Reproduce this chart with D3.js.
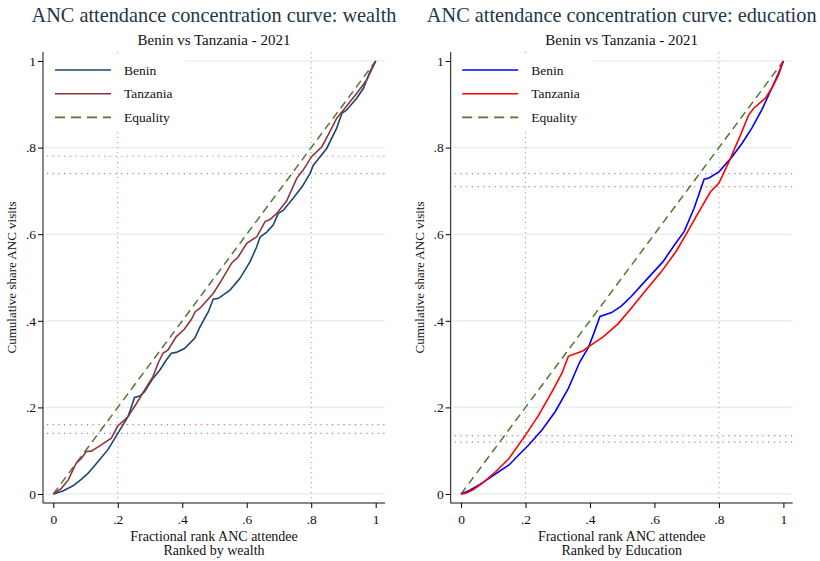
<!DOCTYPE html>
<html>
<head>
<meta charset="utf-8">
<script src="https://cdn.jsdelivr.net/npm/d3@7"></script>
<style>
body { margin: 0; background: #fff; }
text { font-family: "Liberation Serif", "DejaVu Serif", serif; }
</style>
</head>
<body>
<div id="chart-area"></div>
<script>
// cumulative share curves, [fractional rank, cumulative share]
var beninWealth = [[0,0],[0.03,0.007],[0.061,0.019],[0.087,0.034],[0.108,0.048],[0.139,0.075],[0.17,0.103],[0.2,0.14],[0.232,0.179],[0.252,0.223],[0.268,0.226],[0.283,0.236],[0.309,0.267],[0.33,0.286],[0.35,0.309],[0.366,0.325],[0.381,0.327],[0.407,0.336],[0.439,0.36],[0.455,0.386],[0.481,0.421],[0.496,0.45],[0.512,0.452],[0.548,0.471],[0.579,0.498],[0.61,0.536],[0.631,0.571],[0.641,0.593],[0.662,0.605],[0.682,0.621],[0.698,0.648],[0.713,0.655],[0.744,0.683],[0.772,0.71],[0.796,0.74],[0.807,0.76],[0.817,0.769],[0.848,0.798],[0.879,0.845],[0.895,0.879],[0.91,0.887],[0.941,0.914],[0.962,0.937],[0.982,0.975],[1,1]];
var tanzWealth = [[0,0],[0.025,0.013],[0.046,0.032],[0.071,0.071],[0.087,0.082],[0.102,0.098],[0.118,0.099],[0.144,0.111],[0.18,0.129],[0.2,0.157],[0.232,0.179],[0.258,0.209],[0.283,0.24],[0.309,0.271],[0.325,0.302],[0.34,0.325],[0.356,0.333],[0.381,0.363],[0.407,0.381],[0.428,0.403],[0.44,0.421],[0.455,0.429],[0.496,0.463],[0.522,0.494],[0.553,0.533],[0.574,0.548],[0.6,0.579],[0.631,0.594],[0.657,0.629],[0.672,0.634],[0.693,0.648],[0.724,0.677],[0.755,0.729],[0.775,0.748],[0.801,0.779],[0.833,0.802],[0.858,0.837],[0.879,0.868],[0.9,0.887],[0.941,0.925],[0.972,0.956],[1,1]];
var beninEdu = [[0,0],[0.026,0.008],[0.056,0.021],[0.087,0.036],[0.118,0.052],[0.149,0.067],[0.179,0.09],[0.21,0.113],[0.251,0.148],[0.292,0.19],[0.333,0.244],[0.369,0.306],[0.395,0.338],[0.41,0.367],[0.431,0.41],[0.467,0.419],[0.497,0.434],[0.528,0.456],[0.574,0.494],[0.626,0.536],[0.662,0.575],[0.692,0.606],[0.723,0.66],[0.754,0.727],[0.769,0.73],[0.8,0.744],[0.841,0.779],[0.872,0.81],[0.902,0.845],[0.933,0.887],[0.964,0.937],[0.985,0.972],[1,1]];
var tanzEdu = [[0,0],[0.015,0.002],[0.036,0.009],[0.067,0.025],[0.108,0.052],[0.149,0.082],[0.2,0.136],[0.241,0.182],[0.282,0.236],[0.313,0.279],[0.333,0.318],[0.379,0.331],[0.395,0.34],[0.441,0.363],[0.487,0.393],[0.528,0.429],[0.574,0.471],[0.621,0.513],[0.667,0.56],[0.703,0.606],[0.738,0.652],[0.774,0.698],[0.8,0.718],[0.831,0.767],[0.867,0.829],[0.892,0.875],[0.908,0.891],[0.944,0.914],[0.964,0.937],[0.985,0.968],[1,1]];
var equality = [[0,0],[1,1]];

// shares held at the 20th and 80th percentiles (reference lines)
var refRanks = [0.2, 0.8];
var beninWealthQ = [0.14, 0.74];
var tanzWealthQ = [0.16, 0.78];
var beninEduQ = [0.12, 0.74];
var tanzEduQ = [0.135, 0.71];

var ticks = [0, 0.2, 0.4, 0.6, 0.8, 1];
var tickLabels = ["0", ".2", ".4", ".6", ".8", "1"];
var legendNames = ["Benin", "Tanzania", "Equality"];

var svg = d3.select("#chart-area").append("svg")
	.attr("width", 820)
	.attr("height", 561);

function drawPanel(opt) {
	var g = svg.append("g").attr("transform", "translate(" + opt.left + ",0)");

	var x = d3.scaleLinear().domain([0, 1]).range([10.3, 332.7]);
	var y = d3.scaleLinear().domain([0, 1]).range([494, 61]);
	var plotL = 0, plotR = 342, plotT = 52, plotB = 503;

	// grid
	g.selectAll(".grid").data(ticks).enter().append("line")
		.attr("x1", plotL + 2).attr("x2", plotR)
		.attr("y1", (d) => y(d)).attr("y2", (d) => y(d))
		.attr("stroke", "#e8eff1").attr("stroke-width", 1.6);

	// reference lines
	g.selectAll(".vref").data(refRanks).enter().append("line")
		.attr("x1", (d) => x(d)).attr("x2", (d) => x(d))
		.attr("y1", plotT).attr("y2", plotB)
		.attr("stroke", "#7dbb72").attr("stroke-width", 1)
		.attr("stroke-dasharray", "1.2,3.8");
	g.selectAll(".hrefB").data(opt.bq).enter().append("line")
		.attr("x1", plotL + 4).attr("x2", plotR)
		.attr("y1", (d) => y(d)).attr("y2", (d) => y(d))
		.attr("stroke", "#8080ff").attr("stroke-width", 1.2)
		.attr("stroke-dasharray", "1.2,4.5");
	g.selectAll(".hrefT").data(opt.tq).enter().append("line")
		.attr("x1", plotL + 4).attr("x2", plotR)
		.attr("y1", (d) => y(d)).attr("y2", (d) => y(d))
		.attr("stroke", "#ff6464").attr("stroke-width", 1.2)
		.attr("stroke-dasharray", "1.2,4.5");

	var line = d3.line().x((d) => x(d[0])).y((d) => y(d[1]));

	g.append("path").datum(equality).attr("d", line)
		.attr("fill", "none").attr("stroke", "#55752f").attr("stroke-width", 1.5)
		.attr("stroke-dasharray", "8,5");
	g.append("path").datum(opt.benin).attr("d", line)
		.attr("fill", "none").attr("stroke", opt.colors[0]).attr("stroke-width", 1.6);
	g.append("path").datum(opt.tanz).attr("d", line)
		.attr("fill", "none").attr("stroke", opt.colors[1]).attr("stroke-width", 1.6);

	// legend
	var lg = g.append("g");
	lg.append("rect").attr("x", 3).attr("y", 53).attr("width", 139).attr("height", 77)
		.attr("fill", "#fff");
	var legColors = [opt.colors[0], opt.colors[1], "#55752f"];
	legendNames.forEach((name, i) => {
		var ly = 70 + i * 23.7;
		lg.append("line")
			.attr("x1", opt.legX).attr("x2", opt.legX + 56)
			.attr("y1", ly).attr("y2", ly)
			.attr("stroke", legColors[i]).attr("stroke-width", 1.6)
			.attr("stroke-dasharray", i == 2 ? "10,6" : null);
		lg.append("text")
			.attr("x", opt.legX + 69).attr("y", ly + 4.5)
			.attr("font-size", "13.5px").attr("fill", "#111")
			.text(name);
	});

	// axes
	var bottomAxis = d3.axisBottom(x).tickValues(ticks)
		.tickFormat((d, i) => tickLabels[i]).tickSize(5).tickSizeOuter(0);
	var xa = g.append("g")
		.attr("transform", "translate(0," + plotB + ")")
		.call(bottomAxis);
	xa.select(".domain").attr("d", "M" + plotL + ",0H" + plotR).attr("stroke", "#111");
	xa.selectAll(".tick text").attr("font-size", "13.5px").attr("fill", "#111")
		.attr("font-family", "Liberation Serif").attr("dy", "0.95em");

	var leftAxis = d3.axisLeft(y).tickValues(ticks)
		.tickFormat((d, i) => tickLabels[i]).tickSize(5).tickSizeOuter(0);
	var ya = g.append("g").call(leftAxis);
	ya.select(".domain").attr("d", "M0," + plotT + "V" + plotB).attr("stroke", "#111");
	ya.selectAll(".tick text").attr("font-size", "13.5px").attr("fill", "#111")
		.attr("font-family", "Liberation Serif").attr("x", -7);

	// titles
	var cx = (plotL + plotR) / 2;
	g.append("text").attr("x", cx).attr("y", 22)
		.attr("text-anchor", "middle").attr("font-size", "20.3px").attr("fill", "#23364a")
		.text(opt.title);
	g.append("text").attr("x", cx).attr("y", 45)
		.attr("text-anchor", "middle").attr("font-size", "15px").attr("fill", "#111")
		.text("Benin vs Tanzania - 2021");
	g.append("text").attr("x", cx).attr("y", 540.5)
		.attr("text-anchor", "middle").attr("font-size", "14px").attr("fill", "#111")
		.text("Fractional rank ANC attendee");
	g.append("text").attr("x", cx).attr("y", 554.5)
		.attr("text-anchor", "middle").attr("font-size", "14px").attr("fill", "#111")
		.text(opt.xsub);
	g.append("text")
		.attr("transform", "translate(" + opt.ylabX + "," + y(0.5) + ") rotate(-90)")
		.attr("text-anchor", "middle").attr("font-size", "13px").attr("fill", "#111")
		.text("Cumulative share ANC visits");
}

drawPanel({
	left: 43, benin: beninWealth, tanz: tanzWealth, bq: beninWealthQ, tq: tanzWealthQ,
	colors: ["#1a476f", "#90353b"], legX: 12, ylabX: -27,
	title: "ANC attendance concentration curve: wealth", xsub: "Ranked by wealth"
});
drawPanel({
	left: 450.7, benin: beninEdu, tanz: tanzEdu, bq: beninEduQ, tq: tanzEduQ,
	colors: ["#0000ff", "#ff0000"], legX: 11.5, ylabX: -27,
	title: "ANC attendance concentration curve: education", xsub: "Ranked by Education"
});
</script>
</body>
</html>
